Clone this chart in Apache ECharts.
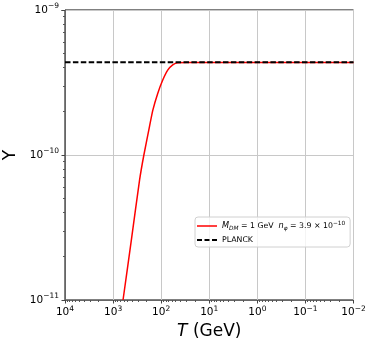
<!DOCTYPE html>
<html>
<head>
<meta charset="utf-8">
<script src="https://cdn.jsdelivr.net/npm/echarts@6/dist/echarts.min.js"></script>
<style>
    html, body {margin: 0; padding: 0; background: #fff;}
    #chart {width: 374px; height: 343px;}
</style>
</head>
<body>
<div id="chart"></div>
<script>
    // curve: temperature (GeV) and abundance Y
    var tempT = [621, 411, 281, 229, 175, 149, 117.5, 92.7, 73.1, 57.5, 45.4, 30, 10, 1, 0.1, 0.01];
    var yieldY = [1.0e-11, 2.68e-11, 6.73e-11, 1.0e-10, 1.57e-10, 2.04e-10, 2.67e-10, 3.29e-10,
        3.85e-10, 4.18e-10, 4.33e-10, 4.34e-10, 4.34e-10, 4.34e-10, 4.34e-10, 4.34e-10];
    var planckT = [10000, 0.01];
    var planckY = [4.36e-10, 4.36e-10];
    var seriesNames = ['dm', 'PLANCK'];

    var font = 'DejaVu Sans';

    function pair(xs, ys) {
        return xs.map(function (x, i) {
            return [x, ys[i]];
        });
    }

    // 10^k with a raised exponent
    function powLabel(v) {
        var k = Math.round(Math.log10(v));
        var e = k < 0 ? '\u2212' + Math.abs(k) : String(k);
        return '{b|10}{s|' + e + '}';
    }
    var tickRich = {
        b: {fontSize: 10.5, fontFamily: font, color: '#000'},
        s: {fontSize: 7.5, fontFamily: font, color: '#000', padding: [0, 0, 7, 0]}
    };

    var chart = echarts.init(document.getElementById('chart'));
    chart.setOption({
        animation: false,
        grid: {
            left: 65, right: 20.5, top: 10, bottom: 43,
            outerBoundsMode: 'none',
            containLabel: false,
            show: true,
            borderColor: '#000',
            borderWidth: 1
        },
        legend: {
            left: 195,
            top: 217,
            orient: 'vertical',
            itemWidth: 20,
            itemHeight: 2,
            itemGap: 5,
            padding: [3, 5, 3, 2],
            backgroundColor: 'rgba(255,255,255,0.8)',
            borderColor: '#d0d0d0',
            borderWidth: 1,
            borderRadius: 3,
            data: [
                {name: seriesNames[0], icon: 'path://M0,0h20v1.5h-20z'},
                {name: seriesNames[1], icon: 'path://M0,0h5v2h-5zM7.5,0h5v2h-5zM15,0h5v2h-5z'}
            ],
            formatter: function (name) {
                if (name === 'dm') {
                    return '{i|M}{sub|DM}{n| = 1 GeV  }{i|n}{sub|\u03c6}{n| = 3.9 \u00d7 10}{sup|\u221210}';
                }
                return name;
            },
            textStyle: {
                fontFamily: font,
                fontSize: 7.8,
                color: '#000',
                rich: {
                    i: {fontFamily: font, fontSize: 8.2, fontStyle: 'italic', color: '#000'},
                    n: {fontFamily: font, fontSize: 7.8, color: '#000'},
                    sub: {fontFamily: font, fontSize: 5.8, fontStyle: 'italic', color: '#000', padding: [4, 0, 0, 0]},
                    sup: {fontFamily: font, fontSize: 5.8, color: '#000', padding: [0, 0, 6, 0]}
                }
            }
        },
        xAxis: {
            type: 'log',
            logBase: 10,
            inverse: true,
            min: 0.01,
            max: 10000,
            name: '{i|T} (GeV)',
            nameLocation: 'middle',
            nameGap: 19,
            nameTextStyle: {
                fontFamily: font,
                fontSize: 17,
                color: '#000',
                rich: {
                    i: {fontFamily: font, fontSize: 17, fontStyle: 'italic', color: '#000'}
                }
            },
            axisLine: {lineStyle: {color: '#666', width: 1}},
            axisTick: {inside: false, length: 3.5, lineStyle: {color: '#444'}},
            minorTick: {show: true, splitNumber: 9, length: 2, lineStyle: {color: '#555'}},
            axisLabel: {margin: 5, formatter: powLabel, rich: tickRich},
            splitLine: {show: true, lineStyle: {color: '#c8c8c8', width: 1}}
        },
        yAxis: {
            type: 'log',
            logBase: 10,
            min: 1e-11,
            max: 1e-9,
            name: 'Y',
            nameLocation: 'middle',
            nameGap: 42,
            nameTextStyle: {fontFamily: font, fontSize: 17, color: '#000'},
            axisLine: {lineStyle: {color: '#666', width: 1}},
            axisTick: {inside: false, length: 3.5, lineStyle: {color: '#444'}},
            minorTick: {show: true, splitNumber: 9, length: 2, lineStyle: {color: '#555'}},
            axisLabel: {margin: 6, formatter: powLabel, rich: tickRich},
            splitLine: {show: true, lineStyle: {color: '#c8c8c8', width: 1}}
        },
        series: [
            {
                name: seriesNames[0],
                type: 'line',
                data: pair(tempT, yieldY),
                symbol: 'none',
                smooth: 0.2,
                color: '#ff0000',
                lineStyle: {color: '#ff0000', width: 1.5}
            },
            {
                name: seriesNames[1],
                type: 'line',
                data: pair(planckT, planckY),
                symbol: 'none',
                color: '#000',
                lineStyle: {color: '#000', width: 1.8, type: [5.5, 2.4]}
            }
        ]
    });
</script>
</body>
</html>
